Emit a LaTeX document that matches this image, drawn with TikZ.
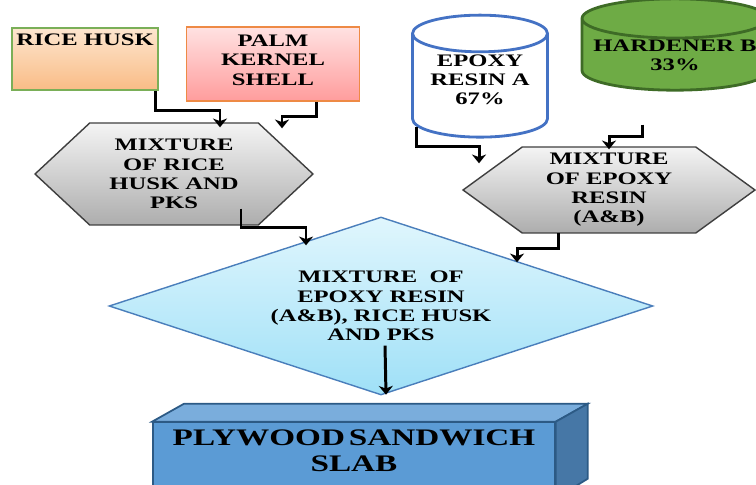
\documentclass[tikz,border=0pt]{standalone}
\usepackage{fontspec}
\setmainfont{Liberation Serif}[FakeStretch=1.4]
\usepackage{xcolor}
\usepackage{tikz}
\usetikzlibrary{calc}
\usetikzlibrary{arrows.meta}
\usetikzlibrary{shapes.geometric}
\usetikzlibrary{shapes.symbols}

\definecolor{huskline}{HTML}{7AAF58}
\definecolor{husktop}{HTML}{FDE6CF}
\definecolor{huskbot}{HTML}{F9BC86}
\definecolor{pksline}{HTML}{EE8A45}
\definecolor{pkstop}{HTML}{FFE2E2}
\definecolor{pksbot}{HTML}{FF9C9C}
\definecolor{hexline}{HTML}{3F3F3F}
\definecolor{hextop}{HTML}{F4F4F4}
\definecolor{hexbot}{HTML}{ADADAD}
\definecolor{resinline}{HTML}{4472C4}
\definecolor{hardfill}{HTML}{6EAB45}
\definecolor{hardline}{HTML}{3E6B26}
\definecolor{diamline}{HTML}{4A7EBB}
\definecolor{diamtop}{HTML}{E0F6FD}
\definecolor{diambot}{HTML}{9FE0F7}
\definecolor{slabfront}{HTML}{5B9BD5}
\definecolor{slabtop}{HTML}{7AADDC}
\definecolor{slabside}{HTML}{4677A6}
\definecolor{slabline}{HTML}{2C5A85}

\begin{document}
\begin{tikzpicture}[x=0.02cm,y=-0.02cm,
	lbl/.style={font=\fontsize{10}{11}\selectfont\bfseries,align=center,text=black,inner sep=0pt},
	flow/.style={-{Stealth[length=5pt,width=8pt,inset=1.5pt]},line width=1.7pt,black},
	hexbox/.style={lbl,signal,signal to=east and west,draw=hexline,line width=0.8pt,top color=hextop,bottom color=hexbot},
	drum/.style={lbl,cylinder,shape border rotate=90,line width=1.6pt}]
	\useasboundingbox (0,0) rectangle (756,484);
	\clip (0,0) rectangle (756,484);
	\node[lbl,draw=huskline,line width=1.1pt,top color=husktop,bottom color=huskbot,minimum width=2.92cm,minimum height=1.24cm] (husk) at (85,59) {RICE HUSK\\~\\~};
	\node[lbl,draw=pksline,line width=1.1pt,top color=pkstop,bottom color=pksbot,minimum width=3.46cm,minimum height=1.48cm] (pks) at (273,64) {PALM\\KERNEL\\SHELL\\[-6.5pt]~};
	\node[drum,draw=resinline,fill=white,aspect=0.37,minimum width=2.7cm,minimum height=2.44cm] (resin) at (480,86) {EPOXY\\RESIN A\\67\%\\[-4pt]~};
	\node[drum,draw=hardline,fill=hardfill,aspect=0.24,minimum width=3.72cm,minimum height=1.74cm] (hard) at (675,55) {HARDENER B\\33\%};
	\node[hexbox,signal pointer angle=86,minimum width=5.56cm,minimum height=2.04cm] (mixa) at (174,174) {MIXTURE\\OF RICE\\HUSK AND\\PKS};
	\node[hexbox,signal pointer angle=72,minimum width=5.84cm,minimum height=1.72cm] (mixb) at (609,190) {MIXTURE\\OF EPOXY\\RESIN\\(A\&B)};
	\node[lbl,diamond,aspect=3.06,draw=diamline,line width=0.8pt,top color=diamtop,bottom color=diambot,minimum width=10.88cm,minimum height=3.56cm] (blend) at (381,306) {MIXTURE~ OF\\EPOXY RESIN\\(A\&B), RICE HUSK\\AND PKS};
	\node[draw=slabline,line width=1pt,fill=slabfront,minimum width=8.04cm,minimum height=1.5cm] (slab) at (354,460) {};
	\filldraw[draw=slabline,line width=1pt,fill=slabtop] (slab.north west) -- ++(32,-18) -- ($(slab.north east)+(32,-18)$) -- (slab.north east) -- cycle;
	\filldraw[draw=slabline,line width=1pt,fill=slabside] (slab.north east) -- ++(32,-18) -- ++(0,75) -- (slab.south east) -- cycle;
	\node[lbl,font=\fontsize{13.5}{15}\selectfont\bfseries] (slabtxt) at ($(slab.center)+(0,-9)$) {PLYWOOD\,SANDWICH\\SLAB};
	\draw[flow] ($(husk.south east)+(-3,0)$) -- ++(0,20) -| ($(mixa.north)+(46,5)$);
	\draw[flow] ($(pks.south east)+(-44,0)$) -- ++(0,15) -| ($(mixa.north)+(108,6)$);
	\draw[flow] ($(resin.south)+(-64,-12)$) -- ++(0,20) -| ($(mixb.north)+(-130,17)$);
	\draw[flow] ($(hard.south)+(-33,33)$) -- ++(0,12) -| ($(mixb.north)+(0,3)$);
	\draw[flow] ($(mixa.south)+(67,-17)$) -- ++(0,19) -| ($(blend.north)+(-75,29)$);
	\draw[flow] ($(mixb.south)+(-51,-1)$) -- ++(0,16) -| ($(blend.north)+(136,46)$);
	\draw[flow] ($(blend.south)+(4,-50)$) -- ($(blend.south)+(5,-1)$);
\end{tikzpicture}
\end{document}
